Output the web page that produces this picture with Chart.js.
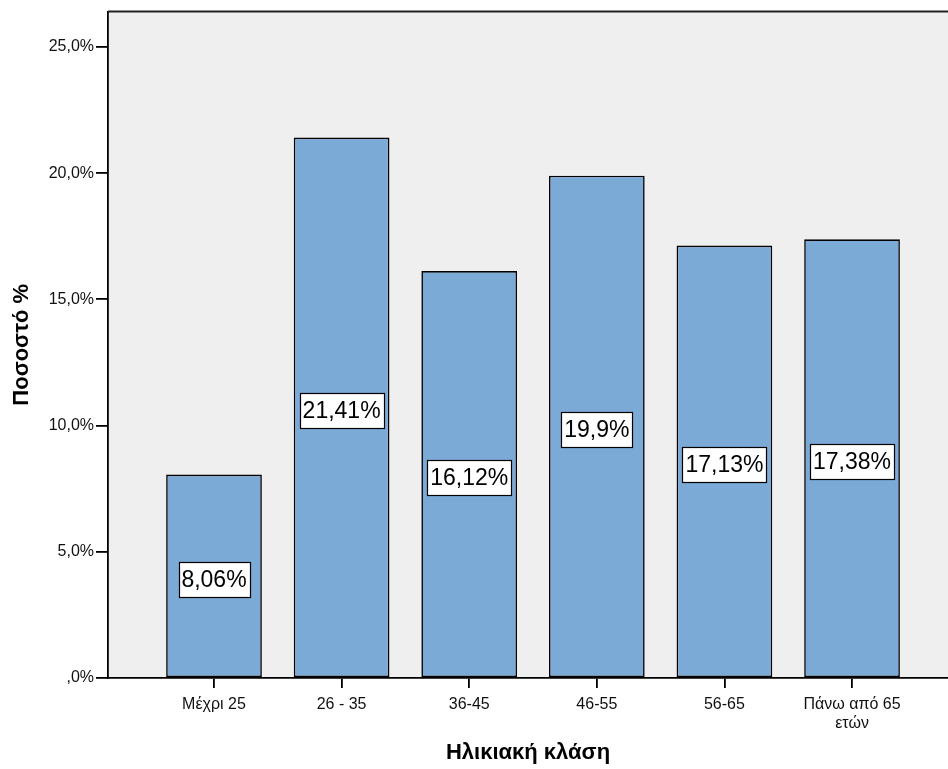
<!DOCTYPE html>
<html>
<head>
<meta charset="utf-8">
<script src="https://cdn.jsdelivr.net/npm/chart.js@4/dist/chart.umd.min.js"></script>
<style>
  html, body { margin: 0; padding: 0; background: #fff; }
  #wrap { width: 948px; height: 769px; position: relative; }
</style>
</head>
<body>
<div id="wrap"><canvas id="grafico"></canvas></div>
<script>
// Ηλικιακές κλάσεις και ποσοστά
var categories = ['Μέχρι 25', '26 - 35', '36-45', '46-55', '56-65', ['Πάνω από 65', 'ετών']];
var percentages = [8.06, 21.41, 16.12, 19.9, 17.13, 17.38];
var valueLabels = ['8,06%', '21,41%', '16,12%', '19,9%', '17,13%', '17,38%'];
var yTicks = [0, 5, 10, 15, 20, 25];
var yTickLabels = [',0%', '5,0%', '10,0%', '15,0%', '20,0%', '25,0%'];

var FONT = "'Liberation Sans', Arial, sans-serif";

// γκρι φόντο περιοχής και πάνω πλαίσιο
var fondo = {
    id: 'fondo',
    beforeDraw: function(chart){
        var a = chart.chartArea, ctx = chart.ctx;
        ctx.save();
        ctx.fillStyle = '#efefef';
        ctx.fillRect(a.left, a.top, a.right - a.left, a.bottom - a.top);
        ctx.restore();
    },
    afterDraw: function(chart){
        var a = chart.chartArea, ctx = chart.ctx;
        ctx.save();
        ctx.strokeStyle = '#222';
        ctx.lineWidth = 2;
        ctx.beginPath();
        ctx.moveTo(a.left, a.top);
        ctx.lineTo(a.right, a.top);
        ctx.stroke();
        ctx.restore();
    }
};

// ετικέτες τιμών στο μέσο κάθε μπάρας
var etiquetas = {
    id: 'etiquetas',
    afterDatasetsDraw: function(chart){
        var ctx = chart.ctx;
        var meta = chart.getDatasetMeta(0);
        ctx.save();
        ctx.font = '23px ' + FONT;
        ctx.textAlign = 'center';
        ctx.textBaseline = 'middle';
        meta.data.forEach(function(bar, i){
            var p = bar.getProps(['x', 'y', 'base'], true);
            var cy = (p.y + p.base) / 2 + 3.5;
            var txt = valueLabels[i];
            var w = Math.round(ctx.measureText(txt).width + 6);
            var h = 35;
            var x0 = Math.round(p.x - w / 2), y0 = Math.round(cy - h / 2);
            ctx.fillStyle = '#fff';
            ctx.fillRect(x0, y0, w, h);
            ctx.strokeStyle = '#000';
            ctx.lineWidth = 1.2;
            ctx.strokeRect(x0 + 0.5, y0 + 0.5, w, h);
            ctx.fillStyle = '#000';
            ctx.fillText(txt, p.x, cy + 1);
        });
        ctx.restore();
    }
};

var datos = {
    datasets: [{
        label: 'Ποσοστό %',
        data: percentages.map(function(v, i){ return {x: i, y: v}; }),
        backgroundColor: '#7baad7',
        borderColor: '#000',
        borderWidth: 1.6,
        borderSkipped: false,
        categoryPercentage: 1,
        barPercentage: 0.75
    }]
};

var config = {
    type: 'bar',
    data: datos,
    plugins: [fondo, etiquetas],
    options: {
        responsive: false,
        animation: false,
        layout: { padding: { top: 10, right: 0, left: 0, bottom: 0 } },
        plugins: {
            legend: { display: false },
            tooltip: { enabled: false }
        },
        scales: {
            x: {
                type: 'linear',
                min: -0.8307,
                max: 5.752,
                offset: false,
                afterFit: function(s){ s.height = 91; },
                afterBuildTicks: function(s){
                    s.ticks = categories.map(function(c, i){ return {value: i}; });
                },
                grid: { offset: false, drawOnChartArea: false, drawTicks: true, tickLength: 10, color: '#000', lineWidth: 1.8 },
                border: { display: true, color: '#000', width: 1.8 },
                ticks: {
                    autoSkip: false,
                    maxRotation: 0,
                    padding: 7,
                    color: '#111',
                    font: { family: FONT, size: 16 },
                    callback: function(v){ return categories[v]; }
                },
                title: {
                    display: true,
                    text: 'Ηλικιακή κλάση',
                    color: '#000',
                    font: { family: FONT, size: 22, weight: 'bold' },
                    padding: { top: 0, bottom: 3 }
                }
            },
            y: {
                min: 0,
                max: 26.4,
                afterFit: function(s){ s.width = 108; },
                afterBuildTicks: function(s){
                    s.ticks = yTicks.map(function(v){ return {value: v}; });
                },
                grid: { drawOnChartArea: false, drawTicks: true, tickLength: 12, color: '#000', lineWidth: 1.8 },
                border: { display: true, color: '#000', width: 1.8 },
                ticks: {
                    padding: 2,
                    color: '#111',
                    font: { family: FONT, size: 16 },
                    callback: function(v){ return yTickLabels[yTicks.indexOf(v)]; }
                },
                title: {
                    display: true,
                    text: 'Ποσοστό %',
                    color: '#000',
                    font: { family: FONT, size: 22, weight: 'bold' },
                    padding: { top: 9, bottom: 0 }
                }
            }
        }
    }
};

var canvas = document.getElementById('grafico');
canvas.width = 948;
canvas.height = 769;
var myChart = new Chart(canvas, config);
</script>
</body>
</html>
